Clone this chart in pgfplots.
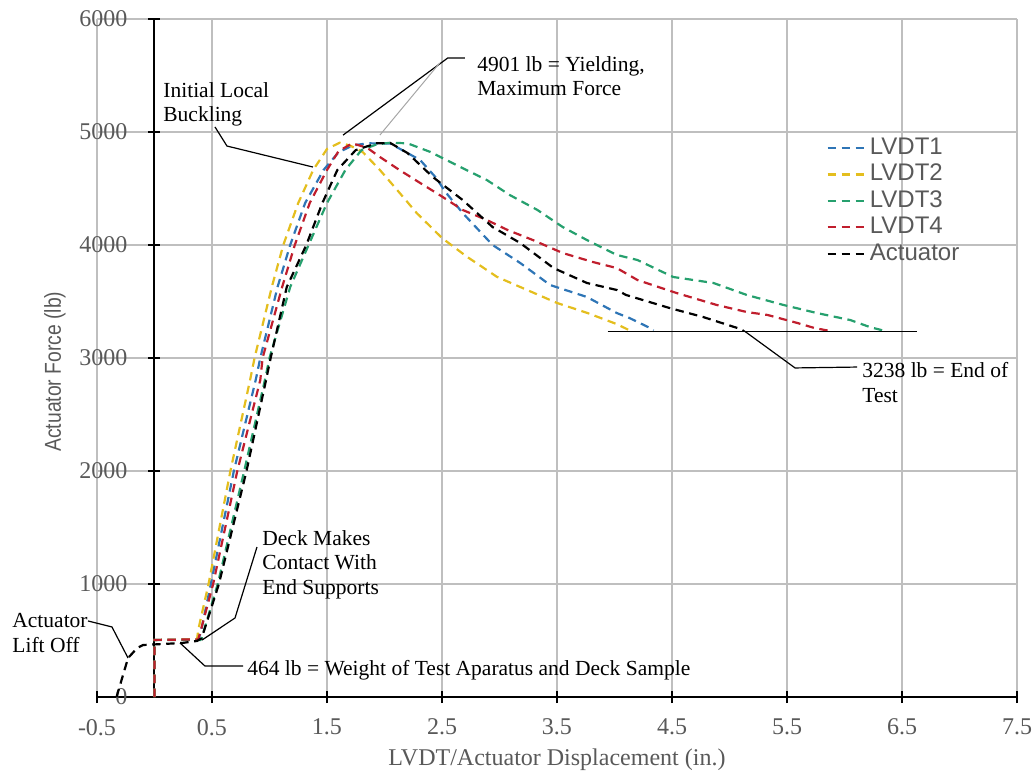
\documentclass[border=0pt]{standalone}
\usepackage{pgfplots}
\pgfplotsset{compat=1.18}
\usepackage{fontspec}
\setmainfont{Liberation Serif}
\newfontfamily\arial{Liberation Sans}
\newfontfamily\arialn[FakeStretch=0.84]{Liberation Sans}
\definecolor{cblue}{RGB}{46,117,182}
\definecolor{cyel}{RGB}{228,190,30}
\definecolor{cgreen}{RGB}{38,160,110}
\definecolor{cred}{RGB}{192,30,45}
\definecolor{tgray}{RGB}{89,89,89}
\definecolor{gridc}{RGB}{191,191,191}
\tikzset{dsh/.style={line width=1.1pt, dash pattern=on 4.2pt off 2.8pt},
  ann/.style={font=\fontsize{10.75}{12.3}\selectfont, align=left, inner sep=0pt, anchor=north west},
  lead/.style={black, line width=0.6pt}}
\begin{document}
\begin{tikzpicture}
\useasboundingbox (-48.5pt,-37.5pt) rectangle (468.5pt,348.5pt);
\begin{axis}[
  scale only axis, width=460pt, height=339pt,
  xmin=-0.5, xmax=7.5, ymin=0, ymax=6000,
  axis x line=bottom, axis y line=middle,
  axis line style={black, line width=1pt, -},
  hide obscured y ticks=false, hide obscured x ticks=false,
  xtick={-0.5,0.5,1.5,2.5,3.5,4.5,5.5,6.5,7.5},
  xticklabels={-0.5,0.5,1.5,2.5,3.5,4.5,5.5,6.5,7.5},
  ytick={0,1000,2000,3000,4000,5000,6000},
  yticklabels={0,1000,2000,3000,4000,5000,6000},
  grid=major, major grid style={gridc, line width=0.8pt},
  tick style={black, line width=0.8pt}, tick align=center, major tick length=6pt,
  ticklabel style={font=\fontsize{12}{12}\selectfont, text=tgray},
  yticklabel style={anchor=east, xshift=-7pt},
  xticklabel style={anchor=north, yshift=-4.5pt},
  xlabel={LVDT/Actuator Displacement (in.)},
  ylabel={Actuator Force (lb)},
  every axis x label/.style={at={(axis description cs:0.5,0)}, yshift=-31.5pt, anchor=center, font=\fontsize{12}{12}\selectfont, text=tgray},
  every axis y label/.style={at={(axis description cs:0,0.48)}, xshift=-21pt, rotate=90, anchor=center, font=\arialn\fontsize{11.5}{12}\selectfont, text=tgray},
  clip=false,
  legend cell align=left,
  legend style={at={(axis cs:5.84,4974)}, anchor=north west, draw=none, fill=none,
    font=\arial\fontsize{12}{12}\selectfont, text=tgray, row sep=0.5pt, inner sep=0pt,
    nodes={inner sep=0.6pt, text height=9pt, text depth=2.5pt}},
  legend image code/.code={\draw[#1] (0pt,0pt) -- (20pt,0pt);},
]
\addplot[cblue, dsh] coordinates {(0,0)(0,505)(0.38,510)(0.40,560)(0.49,1000)(0.69,2000)(0.88,2805)(0.92,3000)(1.07,3628)(1.18,4000)(1.31,4372)(1.47,4664)(1.60,4820)(1.72,4880)(1.85,4900)(2.05,4898)(2.20,4814)(2.31,4752)(2.45,4593)(2.53,4469)(2.68,4283)(2.94,4000)(3.18,3841)(3.44,3646)(3.76,3540)(4.02,3398)(4.13,3354)(4.31,3265)(4.34,3245)};
\addlegendentry{LVDT1}
\addplot[cyel, dsh] coordinates {(0,0)(0,505)(0.37,510)(0.38,593)(0.47,1000)(0.66,2000)(0.83,2800)(0.87,3000)(1.02,3628)(1.12,4000)(1.25,4372)(1.38,4664)(1.50,4850)(1.61,4905)(1.70,4880)(1.81,4823)(1.96,4664)(2.11,4487)(2.28,4283)(2.50,4062)(2.72,3894)(2.98,3717)(3.24,3602)(3.50,3487)(3.76,3400)(4.02,3300)(4.13,3245)};
\addlegendentry{LVDT2}
\addplot[cgreen, dsh] coordinates {(0,0)(0,505)(0.40,505)(0.41,520)(0.55,1000)(0.78,2000)(0.96,2805)(1.00,3000)(1.18,3628)(1.34,4000)(1.50,4372)(1.66,4664)(1.80,4840)(1.93,4890)(2.05,4905)(2.20,4900)(2.40,4823)(2.66,4690)(2.89,4575)(3.09,4442)(3.33,4310)(3.55,4159)(3.76,4044)(4.02,3912)(4.20,3867)(4.51,3717)(4.86,3664)(5.15,3558)(5.47,3469)(5.76,3398)(6.05,3336)(6.22,3274)(6.33,3245)};
\addlegendentry{LVDT3}
\addplot[cred, dsh] coordinates {(0,0)(0,505)(0.38,510)(0.40,580)(0.51,1000)(0.72,2000)(0.92,2805)(0.94,3000)(1.11,3628)(1.22,4000)(1.35,4372)(1.50,4664)(1.60,4830)(1.72,4900)(1.85,4860)(1.96,4779)(2.13,4664)(2.31,4549)(2.48,4442)(2.68,4310)(2.89,4221)(3.07,4133)(3.29,4044)(3.55,3929)(3.81,3850)(4.02,3796)(4.20,3690)(4.54,3575)(4.89,3469)(5.15,3407)(5.33,3381)(5.59,3310)(5.74,3265)(5.87,3240)};
\addlegendentry{LVDT4}
\addplot[black, dsh] coordinates {(-0.33,0)(-0.23,345)(-0.15,434)(-0.10,460)(0.24,478)(0.37,496)(0.41,520)(0.56,1000)(0.80,2000)(0.97,2805)(1.01,3000)(1.15,3628)(1.32,4000)(1.46,4372)(1.59,4664)(1.75,4840)(1.93,4900)(2.05,4903)(2.20,4814)(2.42,4602)(2.51,4531)(2.68,4398)(2.94,4159)(3.18,4018)(3.47,3796)(3.76,3664)(4.02,3602)(4.10,3558)(4.48,3442)(4.77,3363)(5.07,3265)(5.12,3240)};
\addlegendentry{Actuator}
\addplot[black, line width=0.6pt, forget plot] coordinates {(3.94,3238)(6.63,3238)};
% leaders
\draw[lead] (axis cs:2.70,5655) -- (axis cs:2.55,5655) -- (axis cs:1.64,4973);
\draw[gray!70, line width=0.5pt] (axis cs:2.48,5611) -- (axis cs:1.96,4973);
\draw[lead] (axis cs:0.526,5045) -- (axis cs:0.63,4876) -- (axis cs:1.378,4690);
\draw[lead] (axis cs:0.891,1327) -- (axis cs:0.70,699) -- (axis cs:0.413,504);
\draw[lead] (axis cs:0.77,274) -- (axis cs:0.439,274) -- (axis cs:0.222,478);
\draw[lead] (axis cs:-0.578,673) -- (axis cs:-0.37,620) -- (axis cs:-0.23,345);
\draw[lead] (axis cs:5.117,3248) -- (axis cs:5.57,2912) -- (axis cs:6.11,2920);
% texts
\node[ann] at (axis cs:2.804,5673) {4901 lb = Yielding,\\Maximum Force};
\node[ann] at (axis cs:0.074,5442) {Initial Local\\Buckling};
\node[ann] at (axis cs:0.935,1478) {Deck Makes\\Contact With\\End Supports};
\node[ann] at (axis cs:0.804,327) {464 lb = Weight of Test Aparatus and Deck Sample};
\node[ann] at (axis cs:-1.239,743) {Actuator\\Lift Off};
\node[ann] at (axis cs:6.152,2965) {3238 lb = End of\\Test};
\end{axis}
\end{tikzpicture}
\end{document}
